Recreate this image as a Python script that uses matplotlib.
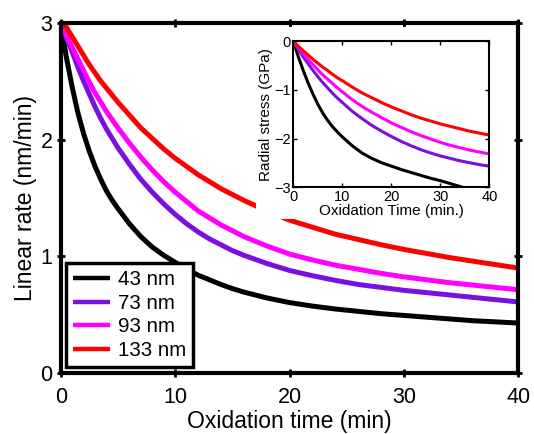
import numpy as np
import matplotlib
matplotlib.use('Agg')
import matplotlib.pyplot as plt
from matplotlib.patches import Rectangle

plt.rcParams['font.family'] = ['Liberation Sans', 'DejaVu Sans']

# main panel: linear rate vs oxidation time
t = [0, 0.5, 1, 1.5, 2, 2.5, 3, 3.5, 4, 4.5, 5, 6, 7, 8, 9, 10, 11, 12, 13, 14, 15, 16,
     18, 20, 22, 24, 26, 28, 30, 32, 34, 36, 38, 40]
rate_43 = [3.0, 2.70, 2.45, 2.23, 2.05, 1.90, 1.77, 1.66, 1.56, 1.48, 1.41, 1.28, 1.17, 1.08,
           1.01, 0.95, 0.89, 0.84, 0.80, 0.76, 0.725, 0.695, 0.645, 0.605, 0.575, 0.55, 0.53,
           0.51, 0.495, 0.48, 0.465, 0.45, 0.44, 0.43]
rate_73 = [3.0, 2.87, 2.75, 2.62, 2.50, 2.39, 2.28, 2.18, 2.09, 2.01, 1.93, 1.79, 1.66, 1.55,
           1.45, 1.36, 1.28, 1.21, 1.15, 1.10, 1.05, 1.01, 0.94, 0.88, 0.835, 0.795, 0.76,
           0.735, 0.71, 0.69, 0.67, 0.65, 0.63, 0.61]
rate_93 = [3.0, 2.89, 2.79, 2.69, 2.59, 2.49, 2.40, 2.32, 2.24, 2.17, 2.10, 1.97, 1.85, 1.74,
           1.64, 1.55, 1.47, 1.39, 1.33, 1.27, 1.22, 1.17, 1.09, 1.02, 0.97, 0.925, 0.89,
           0.855, 0.825, 0.80, 0.775, 0.755, 0.735, 0.715]
rate_133 = [3.05, 2.96, 2.88, 2.80, 2.72, 2.64, 2.57, 2.50, 2.44, 2.38, 2.32, 2.21, 2.10, 2.01,
            1.92, 1.84, 1.77, 1.70, 1.64, 1.58, 1.53, 1.48, 1.39, 1.31, 1.25, 1.19, 1.145,
            1.10, 1.06, 1.025, 0.99, 0.96, 0.93, 0.90]

# inset: radial stress vs oxidation time
t_in = [0, 1, 2, 3, 4, 5, 6, 7, 8, 9, 10, 12, 14, 16, 18, 20, 22, 24, 26, 28, 30, 32, 34, 36, 38, 40]
stress_43 = [0, -0.32, -0.6, -0.86, -1.09, -1.3, -1.48, -1.63, -1.76, -1.87, -1.97, -2.15, -2.3,
             -2.41, -2.5, -2.57, -2.64, -2.7, -2.76, -2.82, -2.87, -2.93, -2.99, -3.05, -3.1, -3.15]
stress_73 = [0, -0.16, -0.32, -0.46, -0.6, -0.73, -0.85, -0.96, -1.07, -1.17, -1.26, -1.44, -1.59,
             -1.73, -1.85, -1.96, -2.06, -2.15, -2.23, -2.3, -2.36, -2.41, -2.46, -2.5, -2.54, -2.57]
stress_93 = [0, -0.13, -0.25, -0.37, -0.48, -0.59, -0.69, -0.78, -0.87, -0.96, -1.04, -1.2, -1.34,
             -1.46, -1.57, -1.68, -1.77, -1.86, -1.94, -2.01, -2.08, -2.14, -2.19, -2.24, -2.28, -2.32]
stress_133 = [0, -0.1, -0.19, -0.28, -0.37, -0.45, -0.53, -0.6, -0.68, -0.75, -0.81, -0.94, -1.06,
              -1.16, -1.26, -1.35, -1.43, -1.51, -1.58, -1.64, -1.7, -1.75, -1.8, -1.85, -1.89, -1.93]

labels = ['43 nm', '73 nm', '93 nm', '133 nm']
colors = ['black', '#7a10e0', '#ff00ff', '#ff0000']

fig = plt.figure(figsize=(5.34, 4.34), dpi=100)
ax = fig.add_axes([0.1137, 0.1399, 0.857, 0.8078])

for y, lab, c in zip([rate_43, rate_73, rate_93, rate_133], labels, colors):
    ax.plot(t, y, color=c, lw=3.6, label=lab, solid_capstyle='butt', solid_joinstyle='round')

ax.set_xlim(0, 40)
ax.set_ylim(0, 3)
ax.set_xticks([0, 10, 20, 30, 40])
ax.set_yticks([0, 1, 2, 3])
ax.set_xlabel('Oxidation time (min)', fontsize=16.5, labelpad=1)
ax.set_ylabel('Linear rate (nm/min)', fontsize=16.5, labelpad=2)
ax.tick_params(direction='inout', length=6, width=2, labelsize=15.5,
               top=True, right=True)
ax.tick_params(axis='x', pad=7)
ax.tick_params(axis='y', pad=3)
for s in ax.spines.values():
    s.set_linewidth(3)

leg = ax.legend(loc='lower left', bbox_to_anchor=(0.012, 0.018), borderaxespad=0,
                fontsize=14.8, handlelength=1.8, handletextpad=0.35,
                labelspacing=0.22, borderpad=0.35, fancybox=False,
                framealpha=1, edgecolor='black')
leg.get_frame().set_linewidth(2.5)
for h in leg.get_lines():
    h.set_linewidth(3.2)

# white backing behind the inset (covers its labels area)
fig.patches.append(Rectangle((256 / 534, 1 - 219 / 434), (511 - 256) / 534, (219 - 27) / 434,
                             transform=fig.transFigure, facecolor='white',
                             edgecolor='none', zorder=0.5))

ins = fig.add_axes([0.5496, 0.5691, 0.367, 0.3353], zorder=1)
for y, c in zip([stress_43, stress_73, stress_93, stress_133], colors):
    ins.plot(t_in, y, color=c, lw=2.2, solid_joinstyle='round')
ins.set_xlim(0, 40)
ins.set_ylim(-3, 0)
ins.set_xticks([0, 10, 20, 30, 40])
ins.set_yticks([-3, -2, -1, 0])
ins.set_xlabel('Oxidation Time (min.)', fontsize=11, labelpad=0)
ins.set_ylabel('Radial stress (GPa)', fontsize=11, labelpad=1)
ins.tick_params(direction='in', length=3, width=1, labelsize=10.5,
                top=True, right=True, pad=2)
for s in ins.spines.values():
    s.set_linewidth(1.5)

fig.savefig('out.png', dpi=100)
